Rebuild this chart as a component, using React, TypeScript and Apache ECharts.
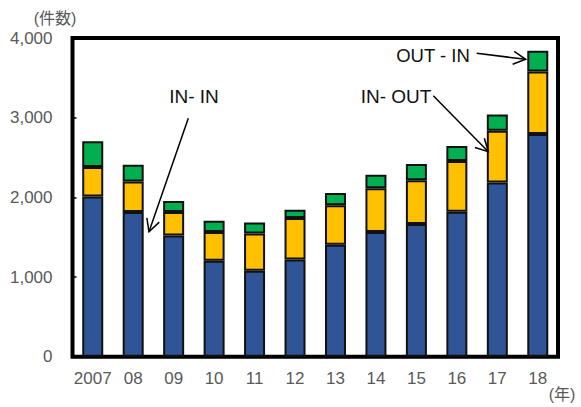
import React, { useEffect, useRef } from "react";
import * as echarts from "echarts";

// M&A deal counts by year, split by deal direction
const categories = ["2007", "08", "09", "10", "11", "12", "13", "14", "15", "16", "17", "18"];
const inInValues = [2010, 1815, 1520, 1205, 1080, 1220, 1405, 1565, 1665, 1820, 2185, 2795];
const inOutValues = [370, 385, 295, 360, 465, 520, 495, 550, 550, 635, 650, 785];
const outInValues = [325, 210, 140, 140, 140, 105, 155, 170, 205, 190, 205, 260];
const seriesNames = ["IN-IN", "IN-OUT", "OUT-IN"];
const yTicks = [0, 1000, 2000, 3000, 4000];

const FONT = "'Liberation Sans', Arial, 'Noto Sans CJK JP', sans-serif";

// Line with an open V head at (x2, y2)
function arrow(x1: number, y1: number, x2: number, y2: number) {
  const dx = x1 - x2;
  const dy = y1 - y2;
  const len = Math.hypot(dx, dy);
  const ux = dx / len;
  const uy = dy / len;
  const arm = 14;
  const ang = (28 * Math.PI) / 180;
  const rot = (a: number) => [
    x2 + arm * (ux * Math.cos(a) - uy * Math.sin(a)),
    y2 + arm * (ux * Math.sin(a) + uy * Math.cos(a)),
  ];
  const style = { stroke: "#000", lineWidth: 1.5, fill: "none" };
  return [
    { type: "line", shape: { x1, y1, x2, y2 }, style, z: 100 },
    { type: "polyline", shape: { points: [rot(ang), [x2, y2], rot(-ang)] }, style, z: 100 },
  ];
}

export default function App() {
  const ref = useRef<HTMLDivElement>(null);

  useEffect(() => {
    if (!ref.current) return;
    const chart = echarts.init(ref.current, undefined, { renderer: "svg" });

    const barStyle = (color: string) => ({
      color,
      borderColor: "#111",
      borderWidth: 2,
    });

    const labelText = (text: string, x: number, y: number, size = 19) => ({
      type: "text",
      x,
      y,
      z: 100,
      style: {
        text,
        fill: "#111",
        font: `${size}px ${FONT}`,
        textAlign: "center",
        textVerticalAlign: "middle",
      },
    });

    const unitText = (text: string, x: number, y: number) => ({
      type: "text",
      x,
      y,
      style: {
        text,
        fill: "#595959",
        font: `16px ${FONT}`,
        textAlign: "center",
        textVerticalAlign: "middle",
      },
    });

    chart.setOption({
      animation: false,
      grid: {
        left: 72.5,
        top: 38,
        width: 485.5,
        height: 318.7,
        show: true,
        borderColor: "#000",
        borderWidth: 4,
        backgroundColor: "transparent",
      },
      xAxis: {
        type: "category",
        data: categories,
        axisLine: { show: false },
        axisTick: { show: false },
        axisLabel: {
          interval: 0,
          color: "#595959",
          fontSize: 17,
          fontFamily: FONT,
          margin: 13,
        },
      },
      yAxis: {
        type: "value",
        min: yTicks[0],
        max: yTicks[yTicks.length - 1],
        interval: 1000,
        splitLine: { show: false },
        axisLine: { show: false },
        axisTick: { show: true, inside: true, length: 4, lineStyle: { color: "#000", width: 1.5 } },
        axisLabel: {
          color: "#595959",
          fontSize: 17,
          fontFamily: FONT,
          margin: 20,
          formatter: (v: number) => v.toLocaleString("en-US"),
        },
      },
      series: [
        { name: seriesNames[0], type: "bar", stack: "total", data: inInValues, barWidth: 21, itemStyle: barStyle("#2F5597") },
        { name: seriesNames[1], type: "bar", stack: "total", data: inOutValues, barWidth: 21, itemStyle: barStyle("#FFC000") },
        { name: seriesNames[2], type: "bar", stack: "total", data: outInValues, barWidth: 21, itemStyle: barStyle("#00B050") },
      ],
      graphic: [
        unitText("(件数)", 55, 18),
        unitText("(年)", 562, 394),
        labelText("IN- IN", 194, 96),
        labelText("IN- OUT", 396, 96),
        labelText("OUT - IN", 433, 55, 18.5),
        ...arrow(188.3, 118.3, 149, 231.7),
        ...arrow(433.3, 95.7, 488.3, 151.7),
        ...arrow(476.7, 53.3, 525.7, 59.3),
      ],
    });

    return () => chart.dispose();
  }, []);

  return (
    <div
      ref={ref}
      style={{ position: "absolute", left: 0, top: 0, width: 581, height: 407 }}
    />
  );
}
